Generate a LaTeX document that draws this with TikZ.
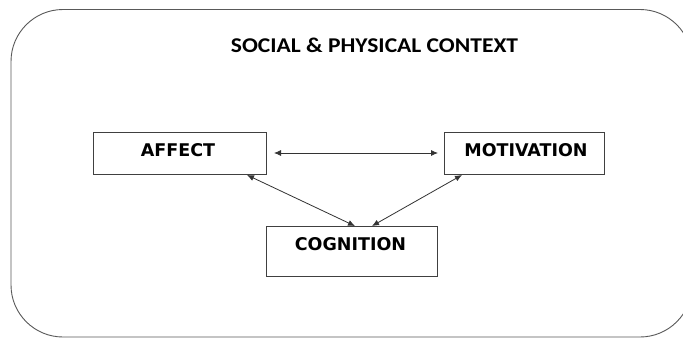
\documentclass[tikz,border=0pt]{standalone}
\usepackage{fontspec}
\setmainfont{Carlito}
\newfontfamily\boxfont{DejaVu Sans}
\usetikzlibrary{arrows.meta}
\tikzset{
  lbl/.style={draw=black!75, line width=0.9pt, fill=white},
  boxtext/.style={font=\boxfont\bfseries\fontsize{17.5}{20}\selectfont, inner sep=0pt, anchor=center},
  conn/.style={draw=black!80, line width=0.8pt, {Latex[length=7pt,width=6pt]}-{Latex[length=7pt,width=6pt]}}
}
\begin{document}
\begin{tikzpicture}[x=1pt,y=-1pt]
\useasboundingbox (0,0) rectangle (683,338);
\fill[white] (0,0) rectangle (683,338);
% outer context
\draw[black!65, line width=0.9pt, rounded corners=52pt] (11,9.5) rectangle (692,337);
\node[font=\bfseries\fontsize{21}{24}\selectfont, inner sep=0pt] (ctx) at (374.5,45) {\scalebox{1.12}[1]{SOCIAL \& PHYSICAL CONTEXT}};
% boxes
\path[lbl] (93,132) rectangle (266,174);
\path[lbl] (444,132) rectangle (604,174);
\path[lbl] (266,226) rectangle (437,276);
\node[boxtext] (aff) at (178,150.5) {AFFECT};
\node[boxtext] (mot) at (526,150.5) {MOTIVATION};
\node[boxtext] (cog) at (350.5,244) {COGNITION};
% connector end points
\coordinate (a1) at (274,153);
\coordinate (m1) at (438,153);
\coordinate (a2) at (247,175);
\coordinate (c1) at (355,226);
\coordinate (m2) at (462,175);
\coordinate (c2) at (372,226);
\draw[conn] (a1) -- (m1);
\draw[conn] (a2) -- (c1);
\draw[conn] (m2) -- (c2);
\end{tikzpicture}
\end{document}
